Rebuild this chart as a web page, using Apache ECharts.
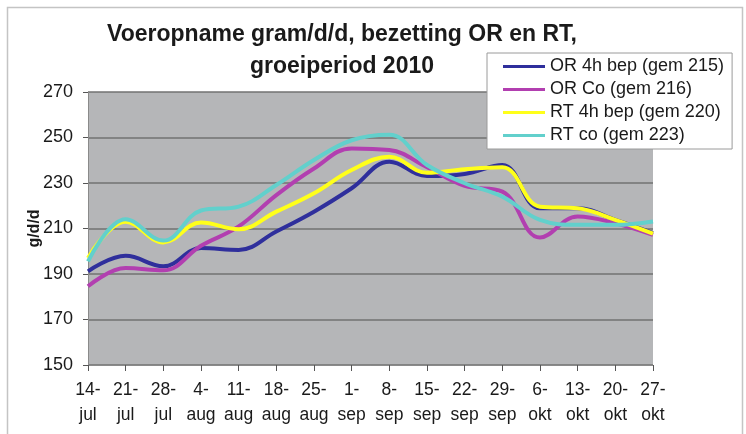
<!DOCTYPE html>
<html>
<head>
<meta charset="utf-8">
<script src="https://cdn.jsdelivr.net/npm/echarts@6/dist/echarts.min.js"></script>
<style>
html,body{margin:0;padding:0;background:#fff;}
#chart{width:746px;height:434px;}
</style>
</head>
<body>
<div id="chart"></div>
<script>
const categories = ['14-\njul','21-\njul','28-\njul','4-\naug','11-\naug','18-\naug','25-\naug','1-\nsep','8-\nsep','15-\nsep','22-\nsep','29-\nsep','6-\nokt','13-\nokt','20-\nokt','27-\nokt'];
const seriesNames = ['OR 4h bep (gem 215)','OR Co (gem 216)','RT 4h bep (gem 220)','RT co (gem 223)'];
const or4h = [191.2, 198.0, 193.4, 201.4, 200.6, 208.7, 217.4, 227.7, 239.3, 233.1, 234.0, 237.9, 218.9, 218.9, 213.8, 208.0];
const orCo = [184.6, 192.6, 191.6, 202.4, 210.9, 224.7, 236.4, 245.2, 244.5, 236.9, 228.7, 226.2, 206.0, 215.3, 212.3, 207.2];
const rt4h = [197.0, 213.0, 203.9, 212.6, 209.7, 217.4, 225.5, 235.7, 241.5, 234.5, 236.0, 236.9, 219.6, 218.9, 213.8, 207.7];
const rtCo = [195.5, 214.1, 204.7, 217.9, 219.6, 229.1, 240.1, 248.8, 251.2, 237.9, 229.9, 224.0, 213.8, 211.6, 211.6, 213.1];
const yTicks = {min: 150, max: 270, interval: 20};
const colors = ['#2f2f9c', '#b23fb0', '#ffff1a', '#62d0cc'];

const chart = echarts.init(document.getElementById('chart'), null, {renderer: 'canvas'});
const dataSets = [or4h, orCo, rt4h, rtCo];
chart.setOption({
  animation: false,
  backgroundColor: '#ffffff',
  textStyle: {fontFamily: 'Liberation Sans, Arial, sans-serif'},
  title: {
    text: 'Voeropname gram/d/d, bezetting OR en RT,\ngroeiperiod 2010',
    left: 342, top: 19, padding: 0,
    textAlign: 'center',
    textStyle: {fontSize: 23, fontWeight: 'bold', color: '#1a1a1a', lineHeight: 32, fontFamily: 'Liberation Sans, Arial, sans-serif'}
  },
  graphic: [{
    type: 'rect', silent: true, z: -1,
    shape: {x: 7.5, y: 7.5, width: 735, height: 440},
    style: {fill: 'none', stroke: '#c4c4c4', lineWidth: 1.5}
  }],
  legend: {
    orient: 'vertical',
    left: 487, top: 53,
    padding: [2, 8, 2, 16],
    itemGap: 0,
    itemWidth: 42, itemHeight: 3,
    icon: 'rect',
    backgroundColor: '#ffffff',
    borderColor: '#9a9a9a', borderWidth: 1,
    textStyle: {fontSize: 18, lineHeight: 23, color: '#1a1a1a'},
    data: seriesNames
  },
  grid: {left: 88, right: 93, top: 92, bottom: 69, show: true, backgroundColor: '#b5b6b8', borderWidth: 0},
  xAxis: {
    type: 'category', boundaryGap: false, data: categories,
    axisLine: {show: true, lineStyle: {color: '#8a8a8a', width: 1}},
    axisTick: {show: true, length: 6, alignWithLabel: true, lineStyle: {color: '#555'}},
    axisLabel: {fontSize: 17.5, lineHeight: 25, color: '#1a1a1a', margin: 13, interval: 0},
    splitLine: {show: false}
  },
  yAxis: {
    type: 'value', min: yTicks.min, max: yTicks.max, interval: yTicks.interval,
    name: 'g/d/d', nameLocation: 'middle', nameGap: 45, nameRotate: 90,
    nameMoveOverlap: false,
    nameTextStyle: {fontSize: 16, fontWeight: 'bold', color: '#1a1a1a'},
    axisLine: {show: true, lineStyle: {color: '#8a8a8a', width: 1}},
    axisTick: {show: true, length: 5, lineStyle: {color: '#555'}},
    axisLabel: {fontSize: 18, color: '#1a1a1a', margin: 15},
    splitLine: {show: true, lineStyle: {color: '#727272', width: 1.5}}
  },
  series: seriesNames.map((n, i) => ({
    name: n, type: 'line', data: dataSets[i], smooth: 0.4,
    showSymbol: false, symbol: 'none',
    lineStyle: {color: colors[i], width: 4},
    itemStyle: {color: colors[i]},
    z: 2 + i
  }))
});
</script>
</body>
</html>
